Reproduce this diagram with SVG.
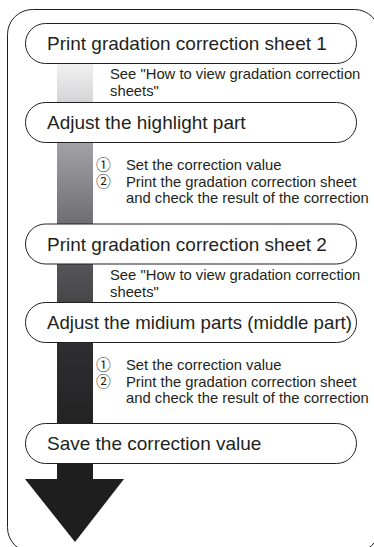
<svg xmlns="http://www.w3.org/2000/svg" width="374" height="547" viewBox="0 0 374 547">
<style>
.frame{fill:none;stroke:#231f20;stroke-width:1}
.node rect{fill:#fff;stroke:#231f20;stroke-width:1}
.nt{font-family:"Liberation Sans",Arial,Helvetica,sans-serif;font-size:19px;fill:#231f20}
.st{font-family:"Liberation Sans",Arial,Helvetica,sans-serif;font-size:14.8px;fill:#231f20}
.cd{font-family:"Noto Sans CJK JP","DejaVu Sans",sans-serif;font-size:14.8px}
</style>
<defs>
<linearGradient id="shaft" gradientUnits="userSpaceOnUse" x1="0" y1="63" x2="0" y2="480">
<stop offset="0" stop-color="#f2f2f2"/>
<stop offset="0.089" stop-color="#d6d6d8"/>
<stop offset="0.192" stop-color="#a2a2a6"/>
<stop offset="0.388" stop-color="#6e6e72"/>
<stop offset="0.484" stop-color="#565659"/>
<stop offset="0.568" stop-color="#47474a"/>
<stop offset="0.671" stop-color="#2f2f31"/>
<stop offset="0.863" stop-color="#232324"/>
<stop offset="1" stop-color="#1e1e1e"/>
</linearGradient>
</defs>
<rect class="frame" x="7.5" y="9.5" width="372" height="543" rx="25" ry="25"/>
<g id="connectors">
<rect x="57" y="63" width="36" height="417" fill="url(#shaft)"/>
<polygon points="25,479 124,479 75,542" fill="#1e1e1e"/>
</g>
<g id="node1" class="node">
<rect x="25.5" y="23.5" width="331" height="40" rx="20" ry="20"/>
<text class="nt" x="47" y="50.3">Print gradation correction sheet 1</text>
</g>
<g id="note1">
<text class="st" x="110" y="79">See "How to view gradation correction</text>
<text class="st" x="110" y="96">sheets"</text>
</g>
<g id="node2" class="node">
<rect x="25.5" y="102.5" width="331" height="40" rx="20" ry="20"/>
<text class="nt" x="47" y="129.3">Adjust the highlight part</text>
</g>
<g id="note2">
<text class="st" y="170"><tspan class="cd" x="96">①</tspan><tspan x="126">Set the correction value</tspan></text>
<text class="st" y="187"><tspan class="cd" x="96">②</tspan><tspan x="126">Print the gradation correction sheet</tspan></text>
<text class="st" x="126" y="203">and check the result of the correction</text>
</g>
<g id="node3" class="node">
<rect x="25.5" y="224" width="331" height="40" rx="20" ry="20"/>
<text class="nt" x="47" y="250.8">Print gradation correction sheet 2</text>
</g>
<g id="note3">
<text class="st" x="110" y="279.5">See "How to view gradation correction</text>
<text class="st" x="110" y="296.5">sheets"</text>
</g>
<g id="node4" class="node">
<rect x="25.5" y="302.5" width="331" height="40" rx="20" ry="20"/>
<text class="nt" x="47" y="329.3" textLength="305" lengthAdjust="spacingAndGlyphs">Adjust the midium parts (middle part)</text>
</g>
<g id="note4">
<text class="st" y="370"><tspan class="cd" x="96">①</tspan><tspan x="126">Set the correction value</tspan></text>
<text class="st" y="387"><tspan class="cd" x="96">②</tspan><tspan x="126">Print the gradation correction sheet</tspan></text>
<text class="st" x="126" y="403">and check the result of the correction</text>
</g>
<g id="node5" class="node">
<rect x="25.5" y="423.5" width="331" height="40" rx="20" ry="20"/>
<text class="nt" x="47" y="450.3">Save the correction value</text>
</g>
</svg>
